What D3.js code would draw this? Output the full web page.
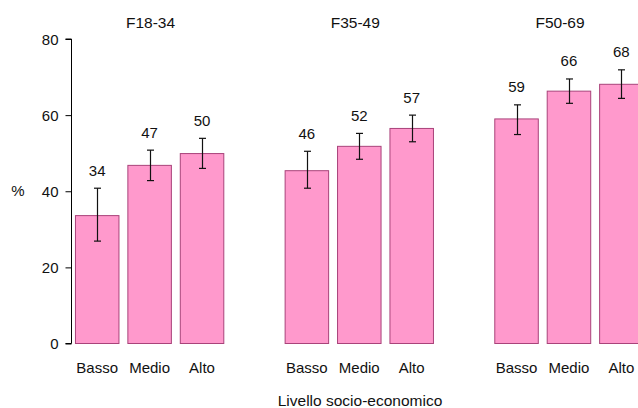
<!DOCTYPE html>
<html><head><meta charset="utf-8">
<script src="https://cdn.jsdelivr.net/npm/d3@7"></script>
<style>html,body{margin:0;padding:0;background:#fff;}svg{display:block;font-family:"Liberation Sans",Arial,sans-serif;}</style>
</head><body>
<script>
const groups = ["F18-34", "F35-49", "F50-69"];
const categories = ["Basso", "Medio", "Alto"];
const values = [
  [33.6, 46.8, 49.9],
  [45.4, 51.8, 56.5],
  [59.0, 66.3, 68.1]
];
const lower = [
  [26.9, 42.8, 46.0],
  [40.8, 48.4, 53.0],
  [54.9, 63.1, 64.4]
];
const upper = [
  [40.8, 50.8, 53.9],
  [50.5, 55.2, 60.0],
  [62.7, 69.5, 71.9]
];
const labels = [
  ["34", "47", "50"],
  ["46", "52", "57"],
  ["59", "66", "68"]
];
const yTicks = [0, 20, 40, 60, 80];
const yLabel = "%";
const xTitle = "Livello socio-economico";

const W = 638, H = 408;
const svg = d3.select("body").append("svg").attr("width", W).attr("height", H);

const y = d3.scaleLinear().domain([0, 80]).range([343.5, 39]);
const slots = d3.range(groups.length * 4);
const x = d3.scaleBand().domain(slots).range([71, 700]).paddingInner(0.17).paddingOuter(0.085);

const data = [];
groups.forEach((g, gi) => categories.forEach((c, ci) => {
  data.push({g, c, gi, ci, slot: gi * 4 + ci, v: values[gi][ci], lo: lower[gi][ci], hi: upper[gi][ci], label: labels[gi][ci]});
}));

// bars
svg.append("g").selectAll("rect").data(data).join("rect")
  .attr("x", d => x(d.slot))
  .attr("y", d => y(d.v))
  .attr("width", x.bandwidth())
  .attr("height", d => y(0) - y(d.v))
  .attr("fill", "#ff99cc")
  .attr("stroke", "#a9437a")
  .attr("stroke-width", 1);

// error bars
const eb = svg.append("g").attr("stroke", "#111").attr("stroke-width", 1.2);
data.forEach(d => {
  const cx = Math.round(x(d.slot) + x.bandwidth() / 2) + 0.5;
  eb.append("line").attr("x1", cx).attr("x2", cx).attr("y1", y(d.hi)).attr("y2", y(d.lo));
  eb.append("line").attr("x1", cx - 3.5).attr("x2", cx + 3.5).attr("y1", y(d.hi)).attr("y2", y(d.hi));
  eb.append("line").attr("x1", cx - 3.5).attr("x2", cx + 3.5).attr("y1", y(d.lo)).attr("y2", y(d.lo));
});

// value labels
svg.append("g").selectAll("text").data(data).join("text")
  .attr("x", d => x(d.slot) + x.bandwidth() / 2)
  .attr("y", d => y(d.hi) - 12.5)
  .attr("text-anchor", "middle")
  .attr("font-size", 15)
  .attr("fill", "#111")
  .text(d => d.label);

// category labels
svg.append("g").selectAll("text").data(data).join("text")
  .attr("x", d => x(d.slot) + x.bandwidth() / 2)
  .attr("y", 373)
  .attr("text-anchor", "middle")
  .attr("font-size", 15)
  .attr("fill", "#111")
  .text(d => d.c);

// group titles
const gx = d3.scalePoint().domain(groups).range([150.5, 560]);
svg.append("g").selectAll("text").data(groups).join("text")
  .attr("x", d => gx(d))
  .attr("y", 27.5)
  .attr("text-anchor", "middle")
  .attr("font-size", 15.5)
  .attr("fill", "#111")
  .text(d => d);

// y axis
const axis = svg.append("g").attr("transform", "translate(71.5,0)")
  .call(d3.axisLeft(y).tickValues(yTicks).tickSize(6).tickPadding(7));
axis.select(".domain").attr("stroke", "#000").attr("d", `M-6,${y(80)}H0V${y(0)}H-6`);
axis.selectAll(".tick line").attr("stroke", "#000");
axis.selectAll(".tick text").attr("font-size", 15).attr("fill", "#111").attr("font-family", "Liberation Sans, Arial, sans-serif").attr("dy", "0.36em");

svg.append("text").attr("x", 18).attr("y", y(40) + 5).attr("text-anchor", "middle")
  .attr("font-size", 15).attr("fill", "#111").text(yLabel);

svg.append("text").attr("x", 360).attr("y", 406).attr("text-anchor", "middle")
  .attr("font-size", 15.5).attr("fill", "#111").text(xTitle);
</script>
</body></html>
